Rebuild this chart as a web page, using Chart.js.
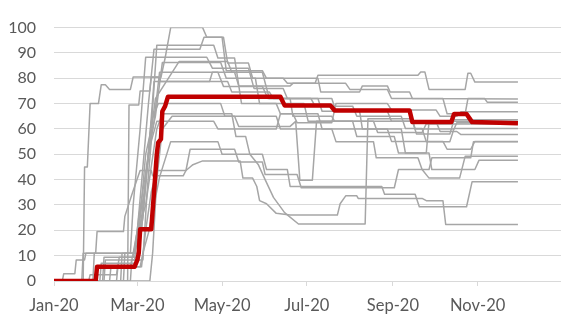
<!DOCTYPE html>
<html lang="en">
<head>
    <meta charset="UTF-8">
    <title>Stringency lines</title>
    <script src="https://cdn.jsdelivr.net/npm/chart.js"></script>
    <style>
        body { margin: 0; background: #ffffff; }
        #wrap { width: 561px; height: 318px; position: relative; }
    </style>
</head>
<body>
    <div id="wrap"><canvas id="myChart"></canvas></div>

    <script>
        // x values are days since 1 Jan 2020
        const tickDays = [0, 60, 121, 182, 244, 305];
        const tickLabels = ['Jan-20', 'Mar-20', 'May-20', 'Jul-20', 'Sep-20', 'Nov-20'];
        const yTicks = [0, 10, 20, 30, 40, 50, 60, 70, 80, 90, 100];

        // highlighted series (red)
        const redLine = [[0,0],[30,0],[31,5.6],[58,5.6],[60,8.3],[61,11],[62,20.4],[70,20.4],[72,35],[74,50],[75,54.6],[77,56],[78,67],[80,69],[82,72.7],[163,72.7],[166,69.3],[199,69.3],[202,67.3],[256,67.3],[258,62.7],[286,62.7],[288,65.9],[297,65.9],[301,62.7],[334,62.3]];

        // other countries (grey)
        const grey01 = [[0,0],[21,0],[22,45],[24,45],[26,70],[32,70],[34,77.4],[37,77.4],[40,75.6],[55,75.6],[57,80.5],[75,80.5],[77,78.7],[112,78.7],[114,82.4],[130,82.4],[133,77],[170,77],[172,78],[188,78],[190,81.2],[262,81.2],[264,82.5],[267,82.5],[270,75.6],[296,75.6],[298,82],[300,82],[303,78.5],[334,78.5]];
        const grey02 = [[0,0],[53,0],[54,69.5],[61,69.5],[62,75],[69,75],[70,80.4],[77,80.4],[80,88],[84,100],[107,100],[110,96.2],[121,96.2],[124,83],[150,83],[153,80],[190,80],[192,74.6],[220,74.6],[222,77],[240,77],[242,74.6],[256,74.6],[258,72],[334,71.8]];
        const grey03 = [[0,0],[20,0],[21,11],[30,11],[31,19.5],[50,19.5],[51,25.5],[56,34],[62,43.6],[70,43.6],[71,41.5],[93,41.5],[95,43.6],[98,45],[100,45.9],[107,47.4],[134,47.4],[136,40.6],[143,40.6],[146,37.3],[148,31.7],[153,30.5],[160,26.7],[170,26],[204,26],[206,30.5],[210,33.6],[218,33.6],[219,32.6],[265,32.6],[268,31.7],[280,31.7],[282,22.3],[334,22.3]];
        const grey04 = [[0,0],[36,0],[37,8.3],[58,8.3],[60,19],[66,30],[70,45],[74,60],[78,66],[128,66],[131,57],[138,57],[141,50],[147,46],[152,40],[158,33],[166,27],[176,22.5],[224,22.5],[226,64],[258,64],[260,60],[288,60],[290,62.5],[334,62.5]];
        const grey05 = [[0,0],[40,0],[41,5.6],[62,5.6],[64,11],[68,19],[72,30],[76,41],[84,55],[118,55],[121,50],[150,50],[153,44],[168,44],[170,37.3],[236,37.3],[238,34.2],[260,34.2],[263,29.3],[297,29.3],[301,39.2],[334,39.2]];
        const grey06 = [[0,0],[6,0],[7,2.9],[15,2.9],[16,8.3],[22,8.3],[23,11],[58,11],[62,20],[66,40],[70,63],[75,70],[120,70],[123,65],[160,65],[163,60],[200,60],[203,55],[230,55],[232,48.6],[262,48.6],[265,44],[270,40.6],[292,40.6],[296,49.2],[334,49.2]];
        const grey07 = [[0,0],[30,0],[31,5.6],[55,5.6],[57,11],[65,35],[69,55],[73,65],[78,86.2],[120,86.2],[124,80],[145,80],[148,70],[180,70],[183,63],[215,63],[218,57],[245,57],[248,50.5],[270,50.5],[272,44],[303,44],[306,47.7],[334,47.7]];
        const grey08 = [[0,0],[25,0],[26,2.5],[45,2.5],[47,9.4],[60,9.4],[62,25],[66,50],[70,60],[74,93],[115,93],[118,88],[130,88],[135,70],[160,70],[163,66],[190,66],[193,60],[240,60],[243,55.1],[280,55.1],[283,52],[300,52],[303,55.1],[334,55.1]];
        const grey09 = [[0,0],[28,0],[29,11],[55,11],[57,30],[62,60],[66,88.3],[110,88.3],[114,84],[140,84],[144,76],[165,76],[168,72],[200,72],[203,67],[240,67],[243,63],[275,63],[278,59],[290,59],[293,57.8],[334,57.8]];
        const grey10 = [[0,0],[33,0],[34,7],[60,7],[63,20],[67,45],[72,63],[76,82.4],[118,82.4],[122,76.8],[150,76.8],[154,72],[185,72],[188,69],[215,69],[218,65],[250,65],[253,60.2],[265,60.2],[268,55],[285,55],[288,60.2],[334,60.2]];
        const grey11 = [[0,0],[50,0],[51,11],[60,11],[64,25],[68,50],[72,78.7],[125,78.7],[128,74.6],[155,74.6],[158,72],[170,72],[172,65],[200,65],[202,63],[258,63],[261,58],[285,58],[288,63.6],[334,63.6]];
        const grey12 = [[0,0],[55,0],[56,8.3],[64,8.3],[67,35],[70,55],[74,63],[115,63],[118,60],[160,60],[163,66],[172,66],[175,62.5],[200,62.5],[203,70],[240,70],[243,67.5],[275,67.5],[278,65],[290,65],[293,66.8],[334,66.8]];
        const grey13 = [[0,0],[69,0],[71,11],[74,40],[78,60],[85,65],[130,65],[133,61],[170,61],[174,63],[177,39.8],[186,39.8],[189,63],[230,63],[233,58.6],[265,58.6],[268,62],[334,62]];
        const grey14 = [[0,0],[35,0],[36,9.4],[57,9.4],[60,20],[64,45],[68,70],[72,91.5],[105,91.5],[108,96.2],[122,96.2],[125,86],[140,86],[143,80],[165,80],[168,78],[210,78],[213,75.6],[240,75.6],[243,72],[280,72],[283,66],[296,66],[298,72],[310,72],[312,70.5],[334,70.5]];
        const grey15 = [[0,0],[45,0],[46,5.6],[63,5.6],[66,20],[70,35],[74,43.6],[95,43.6],[98,52],[130,52],[133,47],[150,47],[152,42],[175,42],[178,36.8],[245,36.8],[248,44],[270,44],[272,48.6],[300,48.6],[302,55],[334,55]];
        const grey16 = [[0,0],[48,0],[49,11],[58,11],[61,25],[68,50],[73,72],[90,86.6],[125,86.6],[128,82.4],[150,82.4],[155,72],[190,72],[193,67],[220,67],[222,60],[250,60],[253,50.5],[268,50.5],[270,63],[334,63]];

        const greySeries = [grey01, grey02, grey03, grey04, grey05, grey06, grey07, grey08,
                            grey09, grey10, grey11, grey12, grey13, grey14, grey15, grey16];

        function toPoints(arr) {
            return arr.map(p => ({ x: p[0], y: p[1] }));
        }

        const datasets = [{
            data: toPoints(redLine),
            borderColor: '#c00000',
            borderWidth: 4.5,
            order: 0
        }];
        greySeries.forEach(function (s) {
            datasets.push({
                data: toPoints(s),
                borderColor: '#a6a6a6',
                borderWidth: 1.5,
                order: 1
            });
        });

        const ctx = document.getElementById('myChart').getContext('2d');
        new Chart(ctx, {
            type: 'line',
            data: { datasets: datasets },
            options: {
                responsive: true,
                maintainAspectRatio: false,
                animation: false,
                layout: { padding: { top: 15, right: 0, left: 0, bottom: 0 } },
                elements: {
                    point: { radius: 0 },
                    line: { tension: 0, borderJoinStyle: 'round', borderCapStyle: 'butt' }
                },
                plugins: {
                    legend: { display: false },
                    tooltip: { enabled: false }
                },
                scales: {
                    x: {
                        type: 'linear',
                        min: 0,
                        max: 365,
                        afterBuildTicks: function (axis) {
                            axis.ticks = tickDays.map(v => ({ value: v }));
                        },
                        afterFit: function (scale) { scale.height = 37; },
                        grid: {
                            display: true,
                            drawOnChartArea: false,
                            drawTicks: true,
                            tickLength: 5,
                            color: '#d9d9d9'
                        },
                        border: { display: true, color: '#d9d9d9', width: 1 },
                        ticks: {
                            autoSkip: false,
                            maxRotation: 0,
                            padding: 10,
                            color: '#595959',
                            font: { family: 'Lato', size: 16.5 },
                            callback: function (value, index) { return tickLabels[index]; }
                        }
                    },
                    y: {
                        min: 0,
                        max: 100,
                        afterBuildTicks: function (axis) {
                            axis.ticks = yTicks.map(v => ({ value: v }));
                        },
                        afterFit: function (scale) { scale.width = 54; },
                        grid: {
                            color: '#d9d9d9',
                            lineWidth: 1,
                            drawTicks: false
                        },
                        border: { display: false },
                        ticks: {
                            padding: 18,
                            color: '#595959',
                            font: { family: 'Lato', size: 16 }
                        }
                    }
                }
            }
        });
    </script>
</body>
</html>
